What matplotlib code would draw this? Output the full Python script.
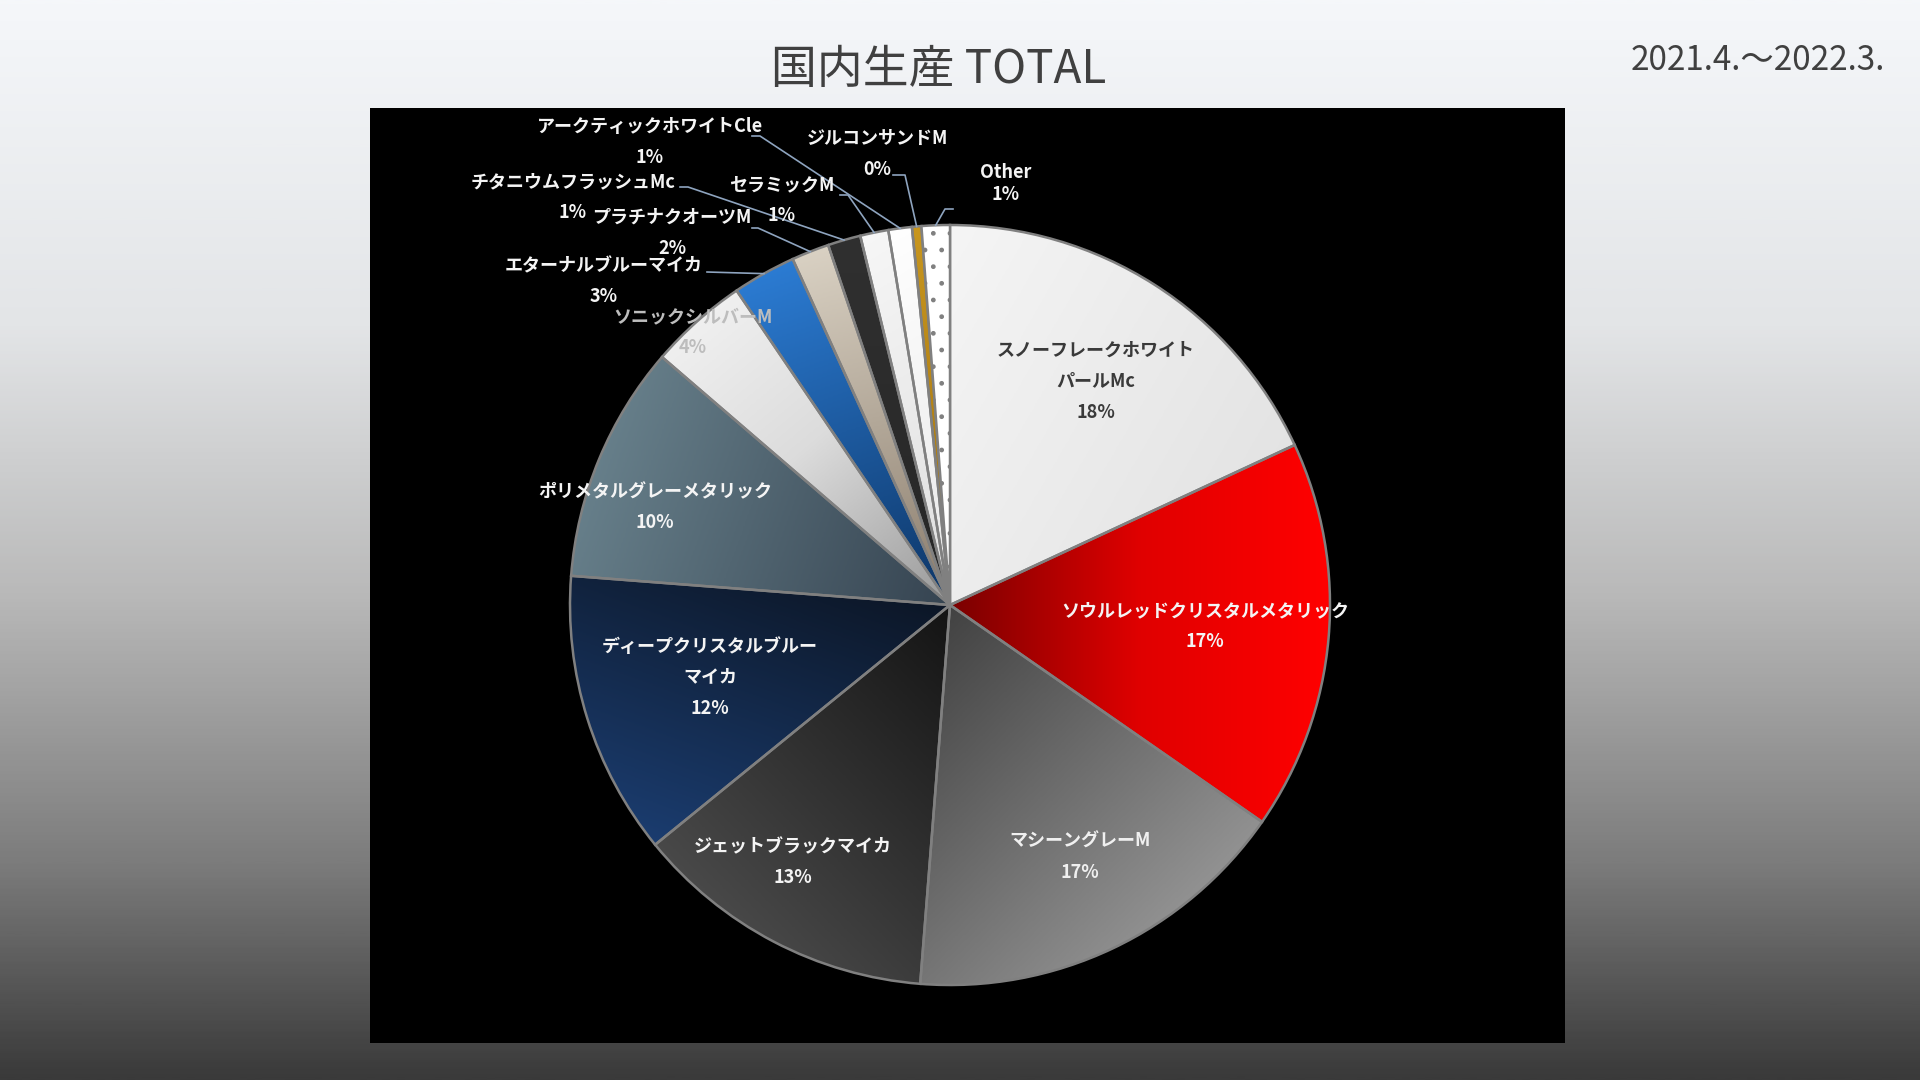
import numpy as np
import matplotlib.pyplot as plt
from matplotlib.colors import LinearSegmentedColormap

plt.rcParams['font.family'] = ['Noto Sans CJK JP', 'DejaVu Sans']

# 2021.4 - 2022.3 domestic production share by body colour (%)
names = [
    "スノーフレークホワイト\nパールMc",
    "ソウルレッドクリスタルメタリック",
    "マシーングレーM",
    "ジェットブラックマイカ",
    "ディープクリスタルブルー\nマイカ",
    "ポリメタルグレーメタリック",
    "ソニックシルバーM",
    "エターナルブルーマイカ",
    "プラチナクオーツM",
    "チタニウムフラッシュMc",
    "セラミックM",
    "アークティックホワイトCle",
    "ジルコンサンドM",
    "Other",
]
shares = [18.1, 16.6, 16.6, 12.9, 12.1, 10.1, 4.2, 2.7, 1.6, 1.4, 1.2, 1.0, 0.4, 1.2]

# gradient colours (start -> end) and direction in degrees, per slice
grad_colors = [
    ["#f5f5f5", "#e0e0e0"],
    ["#7a0000", "#e00000", "#ff0000"],
    ["#3e3e3e", "#a8a8a8"],
    ["#141414", "#565656"],
    ["#0b1320", "#1c4076"],
    ["#6e8893", "#364451"],
    ["#f5f5f5", "#dcdcdc", "#9a9a9a"],
    ["#2d7fd8", "#0d3566"],
    ["#dbd3c5", "#8a7c6c"],
    ["#303030", "#262626"],
    ["#f7f7f7", "#dedede"],
    ["#ffffff", "#e8e8e8"],
    ["#c8961e", "#a07010"],
    None,
]
grad_dirs = [-30, 0, -45, -135, -110, -20, -50, -70, -75, -90, -60, -60, -90, 0]

text_colors = ["#3a3a3a", "#f4f4f4", "#f0f0f0", "#f4f4f4", "#f4f4f4", "#f4f4f4",
               "#bdbdbd", "#f4f4f4", "#f4f4f4", "#f4f4f4", "#f4f4f4", "#f4f4f4",
               "#f4f4f4", "#f4f4f4"]

# label centres in figure pixels (layout)
label_px = [(1096, 381), (1205, 626), (1080, 857), (793, 862), (710, 677),
            (655, 507), (693, 332), (604, 281), (672, 233), (573, 197),
            (782, 200), (650, 142), (877, 154), (1006, 184)]
# leader line start/elbow in figure pixels for small slices
leaders = {7: [(707, 272), (707, 272)], 8: [(752, 228), (758, 228)],
           9: [(680, 187), (688, 187)], 10: [(840, 195), (848, 195)],
           11: [(752, 136), (760, 136)], 12: [(893, 175), (905, 175)],
           13: [(953, 209), (945, 209)]}

CX, CY, R = 950, 605, 380


def px(X, Y):
    return (X - CX) / R, (CY - Y) / R


fig = plt.figure(figsize=(19.2, 10.8), dpi=100)

# background gradient
bg = fig.add_axes([0, 0, 1, 1], zorder=-10)
bg_cmap = LinearSegmentedColormap.from_list(
    "bg", [(0, "#f5f7fa"), (0.3, "#e3e5e7"), (0.55, "#b9b9b9"), (0.8, "#7c7c7c"), (1, "#3a3a3a")])
bg.imshow(np.linspace(0, 1, 400).reshape(-1, 1), cmap=bg_cmap, aspect="auto",
          extent=[0, 1, 0, 1], origin="upper")
bg.set_axis_off()

ax = fig.add_axes([370 / 1920, 37 / 1080, 1195 / 1920, 935 / 1080])

wedges, _ = ax.pie(shares, startangle=90, counterclock=False, radius=1,
                   wedgeprops=dict(edgecolor="#808080", linewidth=1.8))
ax.set_frame_on(True)
ax.set_facecolor("black")

for i, w in enumerate(wedges):
    w.set_zorder(2)
    if grad_colors[i] is None:
        w.set_facecolor("white")
        w.set_hatch(".")
        continue
    w.set_facecolor("none")
    ext = w.get_path().get_extents()
    x0, y0, x1, y1 = ext.x0, ext.y0, ext.x1, ext.y1
    X, Y = np.meshgrid(np.linspace(x0, x1, 200), np.linspace(y0, y1, 200))
    a = np.deg2rad(grad_dirs[i])
    d = np.cos(a) * X + np.sin(a) * Y
    t = (d - d.min()) / max(np.ptp(d), 1e-9)
    cmap = LinearSegmentedColormap.from_list("g%d" % i, grad_colors[i])
    im = ax.imshow(t, cmap=cmap, vmin=0, vmax=1, extent=[x0, x1, y0, y1],
                   origin="lower", interpolation="bilinear", zorder=1)
    im.set_clip_path(w)

total = sum(shares)
for i, w in enumerate(wedges):
    pct = round(shares[i] / total * 100)
    lines = names[i].split("\n") + [f"{pct}%"]
    step = 22 if names[i] == "Other" else 31
    cx, cy = label_px[i]
    for k, line in enumerate(lines):
        ly = cy + (k - (len(lines) - 1) / 2) * step
        x, y = px(cx, ly)
        ax.text(x, y, line, ha="center", va="center", fontsize=13,
                fontweight="bold", color=text_colors[i], zorder=5)
    if i in leaders:
        mid = np.deg2rad((w.theta1 + w.theta2) / 2)
        pts = [px(*p) for p in leaders[i]] + [(np.cos(mid), np.sin(mid))]
        ax.plot([p[0] for p in pts], [p[1] for p in pts], color="#8ea4bf",
                lw=1.2, zorder=4)

ax.set_xlim(-580 / R, (1565 - CX) / R)
ax.set_ylim(-(1043 - CY) / R, (CY - 108) / R)
ax.set_aspect("auto")
ax.set_xticks([])
ax.set_yticks([])
for s in ax.spines.values():
    s.set_visible(False)

fig.text(939 / 1920, 1 - 70 / 1080, "国内生産 TOTAL", ha="center", va="center",
         fontsize=33, color="#404040")
fig.text(1885 / 1920, 1 - 61 / 1080, "2021.4.～2022.3.", ha="right", va="center",
         fontsize=24, color="#404040")

fig.savefig("out.png", dpi=100)
